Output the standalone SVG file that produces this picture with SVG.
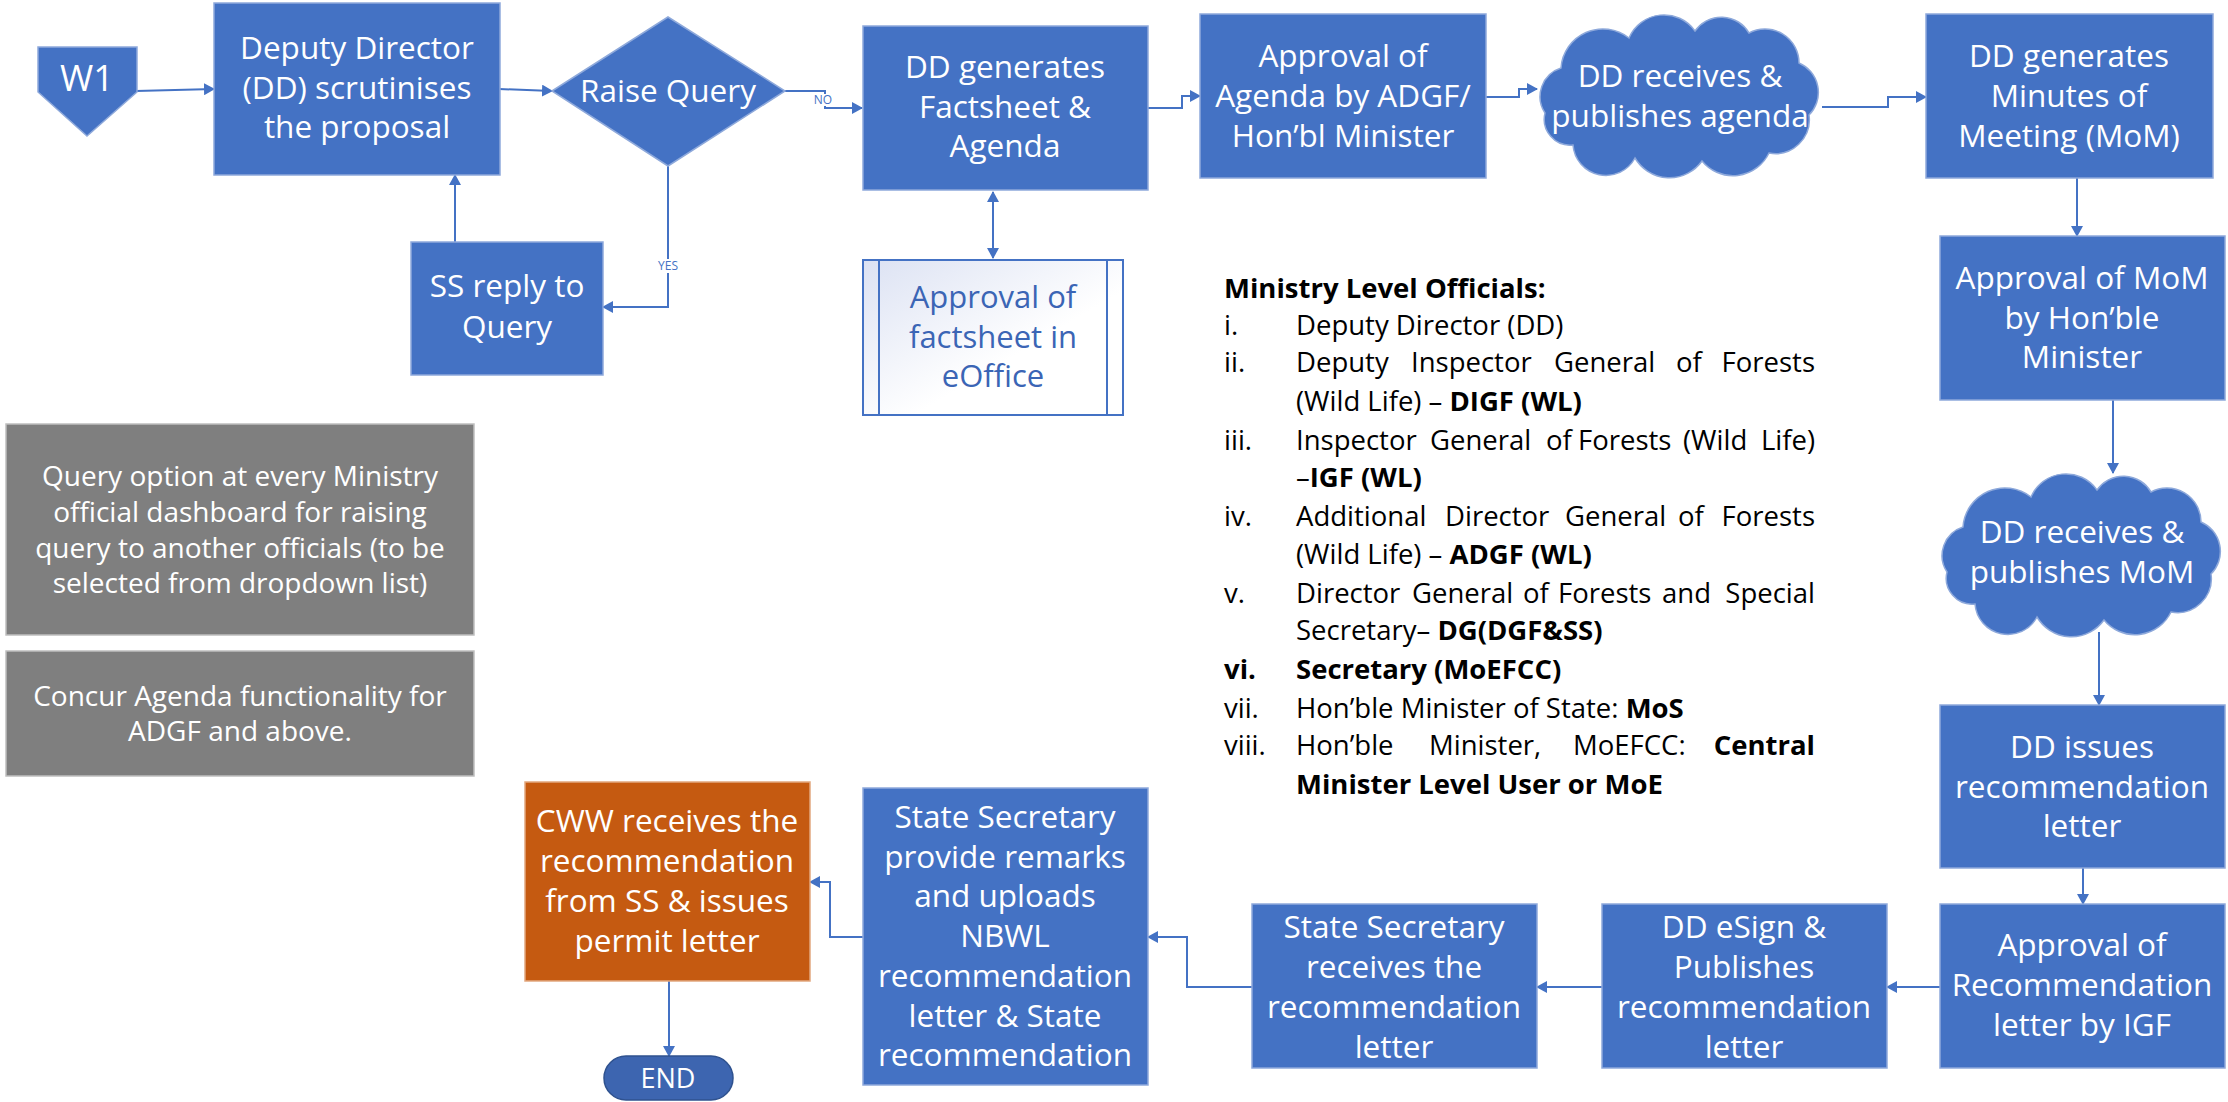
<svg xmlns="http://www.w3.org/2000/svg" width="2228" height="1102" viewBox="0 0 2228 1102">
<style>
.box{fill:#4472C4;stroke:#8EA9DB;stroke-width:1.5}
.gray{fill:#7F7F7F;stroke:#BFBFBF;stroke-width:1.5}
.bt{font-family:"Open Sans","Liberation Sans",sans-serif;font-size:31.5px;fill:#fff;text-anchor:middle}
.gt{font-family:"Open Sans","Liberation Sans",sans-serif;font-size:28px;fill:#fff;text-anchor:middle}
.ot{font-family:"Open Sans","Liberation Sans",sans-serif;font-size:31px;fill:#3B65B5;text-anchor:middle}
.lt{font-family:"Open Sans","Liberation Sans",sans-serif;font-size:27.5px;fill:#000}
.b{font-weight:bold}
.e{text-anchor:end}
.lab{font-family:"Open Sans","Liberation Sans",sans-serif;font-size:12px;fill:#4472C4;text-anchor:middle}
.con{fill:none;stroke:#4472C4;stroke-width:2}
</style>
<defs>
<marker id="arr" markerWidth="12" markerHeight="12" refX="10" refY="6" orient="auto" markerUnits="userSpaceOnUse">
<path d="M0,0 L11,6 L0,12 Z" fill="#4472C4"/>
</marker>
<marker id="arrs" markerWidth="12" markerHeight="12" refX="1" refY="6" orient="auto" markerUnits="userSpaceOnUse">
<path d="M11,0 L0,6 L11,12 Z" fill="#4472C4"/>
</marker>
<linearGradient id="gr" x1="0" y1="0" x2="1" y2="1">
<stop offset="0" stop-color="#DCE2F3"/>
<stop offset="0.6" stop-color="#FFFFFF"/>
</linearGradient>
<path id="cloud" d="M8,100 A30,30 0 0 1 24,55 A42,42 0 0 1 92,25 A38,38 0 0 1 158,18 A32,32 0 0 1 212,20 A34,34 0 0 1 262,50 A32,32 0 0 1 272,102 A34,34 0 0 1 232,140 A40,40 0 0 1 165,148 A40,40 0 0 1 98,145 A33,33 0 0 1 36,132 A26,26 0 0 1 8,100 Z"/>
</defs>
<rect width="2228" height="1102" fill="#fff"/>

<g id="connectors">
<path class="con" d="M136,91 L214,89" marker-end="url(#arr)"/>
<path class="con" d="M499,89 L552,91" marker-end="url(#arr)"/>
<path class="con" d="M785,91 H825 V108 H862" marker-end="url(#arr)"/>
<rect x="810" y="94" width="27" height="12" fill="#fff"/>
<text class="lab" x="823" y="104">NO</text>
<path class="con" d="M668,166 V307 H603" marker-end="url(#arr)"/>
<rect x="655" y="259" width="26" height="14" fill="#fff"/>
<text class="lab" x="668" y="270">YES</text>
<path class="con" d="M455,242 V175" marker-end="url(#arr)"/>
<path class="con" d="M993,192 V258" marker-start="url(#arrs)" marker-end="url(#arr)"/>
<path class="con" d="M1148,108 H1182 V96 H1200" marker-end="url(#arr)"/>
<path class="con" d="M1486,97 H1519 V89 H1537" marker-end="url(#arr)"/>
<path class="con" d="M1822,107 H1888 V97 H1926" marker-end="url(#arr)"/>
<path class="con" d="M2077,178 V236" marker-end="url(#arr)"/>
<path class="con" d="M2113,400 V473" marker-end="url(#arr)"/>
<path class="con" d="M2099,632 V705" marker-end="url(#arr)"/>
<path class="con" d="M2083,868 V904" marker-end="url(#arr)"/>
<path class="con" d="M1940,987 H1887" marker-end="url(#arr)"/>
<path class="con" d="M1602,987 H1537" marker-end="url(#arr)"/>
<path class="con" d="M1252,987 H1187 V937 H1148" marker-end="url(#arr)"/>
<path class="con" d="M863,937 H830 V882 H810" marker-end="url(#arr)"/>
<path class="con" d="M669,981 V1056" marker-end="url(#arr)"/>
</g>

<g id="w1">
<path d="M38,47 H137 V92 L87,136 L38,92 Z" fill="#4472C4" stroke="#8EA9DB" stroke-width="1.5"/>
<text class="bt" x="87" y="91" style="font-size:36px">W1</text>
</g>

<g id="dd-scrutinise">
<rect class="box" x="214" y="3" width="286" height="172"/>
<text class="bt" x="357" y="59">Deputy Director</text>
<text class="bt" x="357" y="99">(DD) scrutinises</text>
<text class="bt" x="357" y="138">the proposal</text>
</g>

<g id="raise-query">
<path class="box" d="M552,91 L668,17 L785,91 L668,166 Z"/>
<text class="bt" x="668" y="102">Raise Query</text>
</g>

<g id="ss-reply">
<rect class="box" x="411" y="242" width="192" height="133"/>
<text class="bt" x="507" y="297">SS reply to</text>
<text class="bt" x="507" y="338">Query</text>
</g>

<g id="dd-factsheet">
<rect class="box" x="863" y="26" width="285" height="164"/>
<text class="bt" x="1005" y="78">DD generates</text>
<text class="bt" x="1005" y="118">Factsheet &amp;</text>
<text class="bt" x="1005" y="157">Agenda</text>
</g>

<g id="eoffice">
<rect x="863" y="260" width="260" height="155" fill="url(#gr)" stroke="#4472C4" stroke-width="2"/>
<path d="M879,260 V415 M1107,260 V415" stroke="#4472C4" stroke-width="2"/>
<text class="ot" x="993" y="308">Approval of</text>
<text class="ot" x="993" y="348">factsheet in</text>
<text class="ot" x="993" y="387">eOffice</text>
</g>

<g id="approval-agenda">
<rect class="box" x="1200" y="14" width="286" height="164"/>
<text class="bt" x="1343" y="67">Approval of</text>
<text class="bt" x="1343" y="107">Agenda by ADGF/</text>
<text class="bt" x="1343" y="147">Hon’bl Minister</text>
</g>

<g id="cloud-agenda">
<use href="#cloud" x="1537" y="13" fill="#4472C4" stroke="#8EA9DB" stroke-width="1.5"/>
<text class="bt" x="1680" y="87">DD receives &amp;</text>
<text class="bt" x="1680" y="127">publishes agenda</text>
</g>

<g id="dd-mom">
<rect class="box" x="1926" y="14" width="287" height="164"/>
<text class="bt" x="2069" y="67">DD generates</text>
<text class="bt" x="2069" y="107">Minutes of</text>
<text class="bt" x="2069" y="147">Meeting (MoM)</text>
</g>

<g id="approval-mom">
<rect class="box" x="1940" y="236" width="285" height="164"/>
<text class="bt" x="2082" y="289">Approval of MoM</text>
<text class="bt" x="2082" y="329">by Hon’ble</text>
<text class="bt" x="2082" y="368">Minister</text>
</g>

<g id="cloud-mom">
<use href="#cloud" x="1939" y="472" fill="#4472C4" stroke="#8EA9DB" stroke-width="1.5"/>
<text class="bt" x="2082" y="543">DD receives &amp;</text>
<text class="bt" x="2082" y="583">publishes MoM</text>
</g>

<g id="dd-issues">
<rect class="box" x="1940" y="705" width="285" height="163"/>
<text class="bt" x="2082" y="758">DD issues</text>
<text class="bt" x="2082" y="798">recommendation</text>
<text class="bt" x="2082" y="837">letter</text>
</g>

<g id="approval-rec">
<rect class="box" x="1940" y="904" width="285" height="164"/>
<text class="bt" x="2082" y="956">Approval of</text>
<text class="bt" x="2082" y="996">Recommendation</text>
<text class="bt" x="2082" y="1036">letter by IGF</text>
</g>

<g id="dd-esign">
<rect class="box" x="1602" y="904" width="285" height="164"/>
<text class="bt" x="1744" y="938">DD eSign &amp;</text>
<text class="bt" x="1744" y="978">Publishes</text>
<text class="bt" x="1744" y="1018">recommendation</text>
<text class="bt" x="1744" y="1058">letter</text>
</g>

<g id="ss-receives">
<rect class="box" x="1252" y="904" width="285" height="164"/>
<text class="bt" x="1394" y="938">State Secretary</text>
<text class="bt" x="1394" y="978">receives the</text>
<text class="bt" x="1394" y="1018">recommendation</text>
<text class="bt" x="1394" y="1058">letter</text>
</g>

<g id="ss-provide">
<rect class="box" x="863" y="788" width="285" height="297"/>
<text class="bt" x="1005" y="828">State Secretary</text>
<text class="bt" x="1005" y="868">provide remarks</text>
<text class="bt" x="1005" y="907">and uploads</text>
<text class="bt" x="1005" y="947">NBWL</text>
<text class="bt" x="1005" y="987">recommendation</text>
<text class="bt" x="1005" y="1027">letter &amp; State</text>
<text class="bt" x="1005" y="1066">recommendation</text>
</g>

<g id="cww">
<rect x="525" y="782" width="285" height="199" fill="#C55A11" stroke="#E2A87F" stroke-width="1.5"/>
<text class="bt" x="667" y="832">CWW receives the</text>
<text class="bt" x="667" y="872">recommendation</text>
<text class="bt" x="667" y="912">from SS &amp; issues</text>
<text class="bt" x="667" y="952">permit letter</text>
</g>

<g id="end">
<rect x="604" y="1056" width="129" height="44" rx="22" fill="#3D65B0" stroke="#2F528F" stroke-width="1.5"/>
<text class="bt" x="668" y="1088" style="font-size:27px">END</text>
</g>

<g id="note-query">
<rect class="gray" x="6" y="424" width="468" height="211"/>
<text class="gt" x="240" y="486">Query option at every Ministry</text>
<text class="gt" x="240" y="522">official dashboard for raising</text>
<text class="gt" x="240" y="558">query to another officials (to be</text>
<text class="gt" x="240" y="593">selected from dropdown list)</text>
</g>

<g id="note-concur">
<rect class="gray" x="6" y="651" width="468" height="125"/>
<text class="gt" x="240" y="706">Concur Agenda functionality for</text>
<text class="gt" x="240" y="741">ADGF and above.</text>
</g>

<g id="officials-list">
<text class="lt b" x="1224" y="298">Ministry Level Officials:</text>
<text class="lt" x="1224" y="335">i.</text>
<text class="lt" x="1296" y="335">Deputy Director (DD)</text>
<text class="lt" x="1224" y="372">ii.</text>
<text class="lt" y="372"><tspan x="1296">Deputy</tspan><tspan x="1411">Inspector</tspan><tspan x="1554">General</tspan><tspan x="1676">of</tspan></text>
<text class="lt e" x="1815" y="372">Forests</text>
<text class="lt" x="1296" y="411">(Wild Life) – <tspan class="b">DIGF (WL)</tspan></text>
<text class="lt" x="1224" y="450">iii.</text>
<text class="lt" y="450"><tspan x="1296">Inspector</tspan><tspan x="1430">General</tspan><tspan x="1546">of</tspan><tspan x="1578">Forests</tspan><tspan x="1683">(Wild</tspan></text>
<text class="lt e" x="1815" y="450">Life)</text>
<text class="lt" x="1296" y="487">–<tspan class="b">IGF (WL)</tspan></text>
<text class="lt" x="1224" y="526">iv.</text>
<text class="lt" y="526"><tspan x="1296">Additional</tspan><tspan x="1445">Director</tspan><tspan x="1565">General</tspan><tspan x="1678">of</tspan></text>
<text class="lt e" x="1815" y="526">Forests</text>
<text class="lt" x="1296" y="564">(Wild Life) – <tspan class="b">ADGF (WL)</tspan></text>
<text class="lt" x="1224" y="603">v.</text>
<text class="lt" y="603"><tspan x="1296">Director</tspan><tspan x="1412">General</tspan><tspan x="1523">of</tspan><tspan x="1558">Forests</tspan><tspan x="1662">and</tspan></text>
<text class="lt e" x="1815" y="603">Special</text>
<text class="lt" x="1296" y="640">Secretary– <tspan class="b">DG(DGF&amp;SS)</tspan></text>
<text class="lt b" x="1224" y="679">vi.</text>
<text class="lt b" x="1296" y="679">Secretary (MoEFCC)</text>
<text class="lt" x="1224" y="718">vii.</text>
<text class="lt" x="1296" y="718">Hon’ble Minister of State: <tspan class="b">MoS</tspan></text>
<text class="lt" x="1224" y="755">viii.</text>
<text class="lt" y="755"><tspan x="1296">Hon’ble</tspan><tspan x="1429">Minister,</tspan><tspan x="1573">MoEFCC:</tspan></text>
<text class="lt b e" x="1815" y="755">Central</text>
<text class="lt b" x="1296" y="794">Minister Level User or MoE</text>
</g>
</svg>
